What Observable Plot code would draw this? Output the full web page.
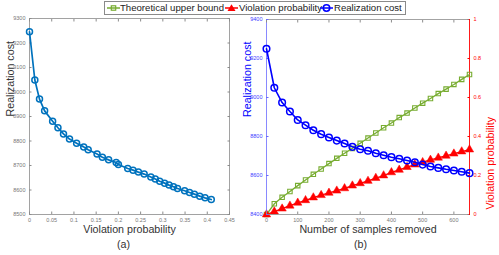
<!DOCTYPE html>
<html><head><meta charset="utf-8">
<script src="https://cdn.jsdelivr.net/npm/d3@7"></script>
<script src="https://cdn.jsdelivr.net/npm/@observablehq/plot@0.6"></script>
<style>
body{margin:0;background:#fff;}
#fig{position:relative;width:499px;height:255px;overflow:hidden;font-family:"Liberation Sans",Arial,sans-serif;}
#fig svg.plot{position:absolute;top:0;}
#legend{position:absolute;left:104px;top:1px;width:300px;height:12px;border:1px solid #8a8a8a;background:#fff;font-size:9.6px;color:#222;}
#legend .it{position:absolute;top:0;height:12px;line-height:12px;white-space:nowrap;}
#legend svg{position:absolute;top:0;}
</style></head><body><div id="fig"><div id="legend"></div></div>
<script>
// ---- data: panel (a) ----
const leftViolation = [0, 0.012, 0.0225, 0.034, 0.052, 0.064, 0.0765, 0.090, 0.106, 0.122, 0.132, 0.152, 0.164, 0.178, 0.195, 0.200, 0.221, 0.233, 0.245, 0.258, 0.273, 0.283, 0.293, 0.304, 0.314, 0.324, 0.333, 0.349, 0.360, 0.371, 0.383, 0.395, 0.409];
const leftCost = [9246, 9049, 8971, 8923, 8881, 8854, 8829, 8808, 8791, 8776, 8764, 8747, 8734, 8723, 8712, 8704, 8688, 8681, 8673, 8665, 8653, 8645, 8636, 8628, 8620, 8613, 8606, 8597, 8590, 8583, 8575, 8568, 8561];
const leftXTicks = [0, 0.05, 0.1, 0.15, 0.2, 0.25, 0.3, 0.35, 0.4, 0.45];
const leftXTickLabels = ["0", "0.05", "0.1", "0.15", "0.2", "0.25", "0.3", "0.35", "0.4", "0.45"];
const leftYTicks = [8500, 8600, 8700, 8800, 8900, 9000, 9100, 9200, 9300];

// ---- data: panel (b) ----
const samplesRemoved = [0, 25, 50, 75, 100, 125, 150, 175, 200, 225, 250, 275, 300, 325, 350, 375, 400, 425, 450, 475, 500, 525, 550, 575, 600, 625, 650];
const rightCost = [9250, 9050, 8974, 8928, 8885, 8858, 8832, 8812, 8795, 8779, 8764, 8747, 8735, 8727, 8714, 8704, 8694, 8686, 8677, 8668, 8656, 8646, 8639, 8632, 8626, 8619, 8612];
const rightViolation = [0, 0.015, 0.03, 0.045, 0.06, 0.073, 0.087, 0.099, 0.111, 0.122, 0.134, 0.148, 0.16, 0.172, 0.187, 0.2, 0.216, 0.229, 0.243, 0.256, 0.268, 0.28, 0.291, 0.301, 0.312, 0.323, 0.333];
const upperBound = [0, 0.055, 0.088, 0.118, 0.148, 0.177, 0.206, 0.233, 0.261, 0.288, 0.314, 0.339, 0.365, 0.392, 0.418, 0.445, 0.469, 0.497, 0.520, 0.546, 0.571, 0.595, 0.620, 0.643, 0.667, 0.693, 0.718];
const rightXTicks = [0, 100, 200, 300, 400, 500, 600];
const rightCostTicks = [8400, 8600, 8800, 9000, 9200, 9400];
const rightProbTicks = [0, 0.2, 0.4, 0.6, 0.8, 1];
const rightProbTickLabels = ["0", "0.2", "0.4", "0.6", "0.8", "1"];

const legendLabels = ["Theoretical upper bound", "Violation probability", "Realization cost"];

const FONT = '"Liberation Sans", Arial, sans-serif';
const GREEN = "#77ac30", RED = "#ff0000", BLUE = "#0000ff", MBLUE = "#0072bd";
const fig = document.getElementById("fig");
const baseStyle = {background: "transparent", overflow: "visible", fontFamily: FONT};
const TS = -2.5; // inward ticks

// ---- panel (a) ----
const leftData = leftViolation.map((v, i) => ({v, c: leftCost[i]}));
const pa = Plot.plot({
  width: 245, height: 255,
  marginLeft: 29, marginRight: 16, marginTop: 18, marginBottom: 41,
  style: baseStyle,
  x: {domain: [0, 0.45]},
  y: {domain: [8500, 9300]},
  marks: [
    Plot.frame({stroke: "#8c8c8c", strokeWidth: 0.8}),
    Plot.axisX({ticks: leftXTicks, tickFormat: (d, i) => leftXTickLabels[i], tickSize: TS, tickPadding: 6.5, fontSize: 5.5, color: "#777", stroke: "#8c8c8c", label: null}),
    Plot.axisX({anchor: "top", ticks: leftXTicks, tickFormat: () => "", tickSize: TS, stroke: "#8c8c8c", label: null}),
    Plot.axisY({ticks: leftYTicks, tickFormat: d => String(d), tickSize: TS, tickPadding: 6.5, fontSize: 5.5, color: "#777", stroke: "#8c8c8c", label: null}),
    Plot.axisY({anchor: "right", ticks: leftYTicks, tickFormat: () => "", tickSize: TS, stroke: "#8c8c8c", label: null}),
    Plot.line(leftData, {x: "v", y: "c", stroke: MBLUE, strokeWidth: 1.7}),
    Plot.dot(leftData, {x: "v", y: "c", r: 3, stroke: MBLUE, strokeWidth: 1.5, fill: "none"}),
    Plot.text(["Realization cost"], {frameAnchor: "left", rotate: -90, dx: -19, fontSize: 10.7, fill: "#333"}),
    Plot.text(["Violation probability"], {frameAnchor: "bottom", dy: 18.3, fontSize: 10.7, fill: "#333"}),
    Plot.text(["(a)"], {frameAnchor: "bottom", dx: -6, dy: 33, fontSize: 10.7, fill: "#333"})
  ]
});
pa.classList.add("plot");
pa.style.left = "0px";
fig.appendChild(pa);

// ---- panel (b): probability layer (right axis) ----
const rightData = samplesRemoved.map((n, i) => ({n, cost: rightCost[i], viol: rightViolation[i], ub: upperBound[i]}));
const pbR = Plot.plot({
  width: 259, height: 255,
  marginLeft: 26, marginRight: 30, marginTop: 19, marginBottom: 41,
  style: baseStyle,
  x: {domain: [0, 650], axis: null},
  y: {domain: [0, 1]},
  marks: [
    Plot.ruleX([650], {stroke: RED, strokeWidth: 0.9}),
    Plot.axisY({anchor: "right", ticks: rightProbTicks, tickFormat: (d, i) => rightProbTickLabels[i], tickSize: TS, tickPadding: 6.5, fontSize: 5.5, color: RED, stroke: RED, label: null}),
    Plot.line(rightData, {x: "n", y: "ub", stroke: GREEN, strokeWidth: 1.3}),
    Plot.dot(rightData, {x: "n", y: "ub", symbol: "square", r: 2.5, stroke: GREEN, strokeWidth: 1.1, fill: "none"}),
    Plot.line(rightData, {x: "n", y: "viol", stroke: RED, strokeWidth: 1.3}),
    Plot.dot(rightData, {x: "n", y: "viol", symbol: "triangle", r: 3.1, fill: RED, stroke: RED, strokeWidth: 0.5}),
    Plot.text(["Violation probability"], {frameAnchor: "right", rotate: -90, dx: 21, fontSize: 10.7, fill: RED})
  ]
});
pbR.classList.add("plot");
pbR.style.left = "240px";
fig.appendChild(pbR);

// ---- panel (b): cost layer (left axis) ----
const pbL = Plot.plot({
  width: 259, height: 255,
  marginLeft: 26, marginRight: 30, marginTop: 19, marginBottom: 41,
  style: baseStyle,
  x: {domain: [0, 650]},
  y: {domain: [8400, 9400]},
  marks: [
    Plot.ruleY([9400], {stroke: "#8c8c8c", strokeWidth: 0.8}),
    Plot.ruleY([8400], {stroke: "#8c8c8c", strokeWidth: 0.8}),
    Plot.ruleX([0], {stroke: "#6b6bff", strokeWidth: 0.8}),
    Plot.axisX({ticks: rightXTicks, tickFormat: d => String(d), tickSize: TS, tickPadding: 6.5, fontSize: 5.5, color: "#777", stroke: "#8c8c8c", label: null}),
    Plot.axisX({anchor: "top", ticks: rightXTicks, tickFormat: () => "", tickSize: TS, stroke: "#8c8c8c", label: null}),
    Plot.axisY({ticks: rightCostTicks, tickFormat: d => String(d), tickSize: TS, tickPadding: 6.5, fontSize: 5.5, color: "#4040ff", stroke: "#6b6bff", label: null}),
    Plot.line(rightData, {x: "n", y: "cost", stroke: BLUE, strokeWidth: 1.6}),
    Plot.dot(rightData, {x: "n", y: "cost", r: 3.3, stroke: BLUE, strokeWidth: 1.5, fill: "none"}),
    Plot.text(["Realization cost"], {frameAnchor: "left", rotate: -90, dx: -19, fontSize: 10.7, fill: BLUE}),
    Plot.text(["Number of samples removed"], {frameAnchor: "bottom", dy: 18.3, fontSize: 10.7, fill: "#333"}),
    Plot.text(["(b)"], {frameAnchor: "bottom", dx: -7.5, dy: 33, fontSize: 10.7, fill: "#333"})
  ]
});
pbL.classList.add("plot");
pbL.style.left = "240px";
fig.appendChild(pbL);

// ---- legend ----
const legend = document.getElementById("legend");
const legendItems = [
  {label: legendLabels[0], color: GREEN, sym: "square", symLeft: 2, textLeft: 15},
  {label: legendLabels[1], color: RED, sym: "triangle", symLeft: 120, textLeft: 134},
  {label: legendLabels[2], color: BLUE, sym: "circle", symLeft: 215, textLeft: 229}
];
const NS = "http://www.w3.org/2000/svg";
for (const it of legendItems) {
  const s = document.createElementNS(NS, "svg");
  s.setAttribute("width", 13); s.setAttribute("height", 12);
  s.style.left = it.symLeft + "px";
  const ln = document.createElementNS(NS, "line");
  ln.setAttribute("x1", 0); ln.setAttribute("x2", 13); ln.setAttribute("y1", 6); ln.setAttribute("y2", 6);
  ln.setAttribute("stroke", it.color); ln.setAttribute("stroke-width", 1.5);
  s.appendChild(ln);
  let m;
  if (it.sym === "square") {
    m = document.createElementNS(NS, "rect");
    m.setAttribute("x", 4.3); m.setAttribute("y", 3.8); m.setAttribute("width", 4.4); m.setAttribute("height", 4.4);
    m.setAttribute("fill", "none"); m.setAttribute("stroke", it.color); m.setAttribute("stroke-width", 1.2);
  } else if (it.sym === "triangle") {
    m = document.createElementNS(NS, "path");
    m.setAttribute("d", "M6.5,2.2L10.5,9L2.5,9Z");
    m.setAttribute("fill", it.color);
  } else {
    m = document.createElementNS(NS, "circle");
    m.setAttribute("cx", 6.5); m.setAttribute("cy", 6); m.setAttribute("r", 3.2);
    m.setAttribute("fill", "none"); m.setAttribute("stroke", it.color); m.setAttribute("stroke-width", 1.6);
  }
  s.appendChild(m);
  legend.appendChild(s);
  const t = document.createElement("span");
  t.className = "it"; t.style.left = it.textLeft + "px"; t.textContent = it.label;
  legend.appendChild(t);
}
</script></body></html>
